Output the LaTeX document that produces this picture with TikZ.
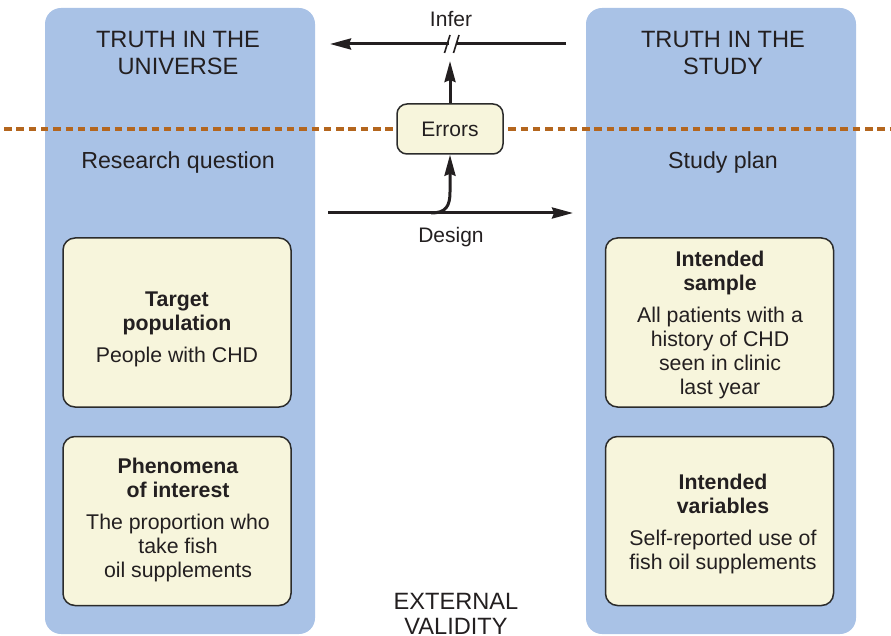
\documentclass[tikz,border=0pt]{standalone}
\usepackage{fontspec}
\setmainfont{Liberation Sans}
\usetikzlibrary{arrows.meta}
\definecolor{colblue}{HTML}{A9C2E6}
\definecolor{cream}{HTML}{F7F5DC}
\definecolor{ink}{HTML}{231F20}
\definecolor{boxline}{HTML}{2B2B2B}
\definecolor{dashbrown}{HTML}{B4661E}
\begin{document}
\begin{tikzpicture}[x=1pt,y=-1pt,
  column/.style={fill=colblue, draw=none, rounded corners=16pt, minimum width=270pt, minimum height=626pt, inner sep=0pt},
  titletext/.style={text=ink, align=center, font=\fontsize{23.6}{27}\selectfont, inner sep=0pt},
  subtitle/.style={text=ink, font=\fontsize{23.2}{27}\selectfont, inner sep=0pt},
  ibox/.style={fill=cream, draw=boxline, line width=1.5pt, rounded corners=12pt, minimum width=228pt, minimum height=169pt, inner sep=0pt},
  itext/.style={text=ink, align=center, font=\fontsize{21.3}{24}\selectfont, inner sep=0pt},
  errbox/.style={fill=cream, draw=boxline, line width=1.5pt, rounded corners=10pt, minimum width=106pt, minimum height=50pt, inner sep=0pt, text=ink, font=\fontsize{21}{24}\selectfont},
  lbl/.style={text=ink, font=\fontsize{21}{24}\selectfont, inner sep=0pt},
  conn/.style={draw=ink, line width=3pt},
  tip/.style={-{Stealth[length=21pt,width=11pt,inset=2pt]}},
  dashline/.style={draw=dashbrown, line width=4pt, dash pattern=on 7.5pt off 4.8pt}
]
\useasboundingbox (0,0) rectangle (891,636);

% columns
\node[column] (colL) at (180,321) {};
\node[column] (colR) at (721,321) {};

% titles
\node[titletext] (tL) at (178,53) {TRUTH IN THE\\UNIVERSE};
\node[titletext] (tR) at (723,53) {TRUTH IN THE\\STUDY};
\node[subtitle] (rq) at (178,163) {Research question};
\node[subtitle] (sp) at (723,163) {Study plan};

% dashed divider
\coordinate (dashA) at (4,129);
\coordinate (dashB) at (891,129);
\draw[dashline] (dashA) -- (dashB);

% inner boxes
\node[ibox] (boxL1) at (177,322.5) {};
\node[ibox] (boxL2) at (177,521) {};
\node[ibox] (boxR1) at (719.5,322.5) {};
\node[ibox] (boxR2) at (719.5,521) {};

\node[itext] (txL1) at (177,329) {\textbf{Target}\\\textbf{population}\\[8pt]People with CHD};
\node[itext] (txL2) at (178,520) {\textbf{Phenomena}\\\textbf{of interest}\\[8pt]The proportion who\\take fish\\oil supplements};
\node[itext] (txR1) at (720,325) {\textbf{Intended}\\\textbf{sample}\\[8pt]All patients with a\\history of CHD\\seen in clinic\\last year};
\node[itext] (txR2) at (723,524) {\textbf{Intended}\\\textbf{variables}\\[8pt]Self-reported use of\\fish oil supplements};

% errors box
\node[errbox] (err) at (450,129) {Errors};

% infer arrow with break
\coordinate (infR) at (566,44);
\coordinate (infBreakR) at (456,44);
\coordinate (infBreakL) at (449,44);
\coordinate (infL) at (330,44);
\draw[conn] (infR) -- (infBreakR);
\draw[conn,tip] (infBreakL) -- (infL);
\coordinate (slash1a) at (444.5,53);
\coordinate (slash1b) at (450,35);
\coordinate (slash2a) at (453.5,53);
\coordinate (slash2b) at (459,35);
\draw[draw=ink, line width=1.6pt] (slash1a) -- (slash1b);
\draw[draw=ink, line width=1.6pt] (slash2a) -- (slash2b);
\node[lbl] (infer) at (451,19.5) {Infer};

% errors up arrow
\coordinate (errUp) at (450,61);
\draw[conn,tip] (err.north) -- (errUp);

% design arrow
\coordinate (desL) at (328,213);
\coordinate (desR) at (573,213);
\coordinate (desBranch) at (431,213);
\draw[conn,tip] (desL) -- (desR);
\draw[conn,tip] (desBranch) .. controls (446,213) and (450,206) .. (450,192) -- (err.south);
\node[lbl] (design) at (451,237.5) {Design};

% external validity
\node[titletext, font=\fontsize{23.6}{25}\selectfont] (ext) at (456,614) {EXTERNAL\\VALIDITY};
\end{tikzpicture}
\end{document}
